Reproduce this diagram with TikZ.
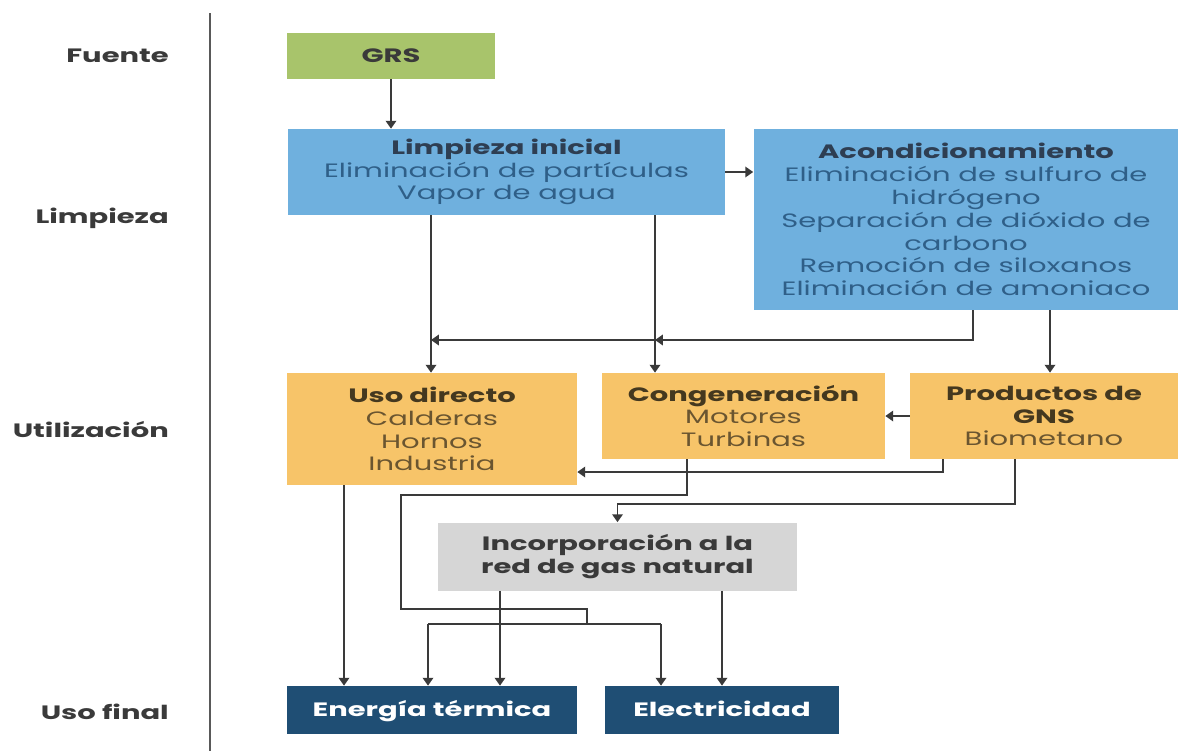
\documentclass[tikz,border=0pt]{standalone}
\usepackage{fontspec}
\setmainfont{Poppins}[FakeStretch=1.5]
\usetikzlibrary{arrows.meta}
\definecolor{verde}{HTML}{A8C46B}
\definecolor{azul}{HTML}{6FB0DE}
\definecolor{amarillo}{HTML}{F7C469}
\definecolor{gris}{HTML}{D6D6D6}
\definecolor{marino}{HTML}{1F4E74}
\definecolor{linea}{HTML}{3A3A3A}
\definecolor{tituloazul}{HTML}{2E3E52}
\definecolor{textoazul}{HTML}{2F5F88}
\definecolor{titulocafe}{HTML}{44381F}
\definecolor{textocafe}{HTML}{6A5530}

\tikzset{
  caja/.style={inner sep=0pt, align=center, font=\fontsize{11}{13}\selectfont},
  cajaazul/.style={caja, fill=azul, text=textoazul},
  cajaamarilla/.style={caja, fill=amarillo, text=textocafe},
  cajafinal/.style={caja, fill=marino, text=white, text height=7.8pt, text depth=0pt,
    font=\bfseries\fontsize{11}{13}\selectfont},
  etapa/.style={anchor=east, text=linea, font=\bfseries\fontsize{11}{13}\selectfont},
  flecha/.style={draw=linea, line width=1pt, -{Triangle[length=4.5pt,width=6pt]}},
  conector/.style={draw=linea, line width=1pt}
}

\begin{document}
\begin{tikzpicture}[x=0.02cm,y=-0.02cm]
  \useasboundingbox (0,0) rectangle (1180,751);
  \draw[gray!70!black, line width=1.1pt] (210,13) -- (210,751);

  \node[etapa] (fuente) at (175,56) {Fuente};
  \node[etapa] (limpieza) at (175,218) {Limpieza};
  \node[etapa] (utilizacion) at (175,430) {Utilización};
  \node[etapa] (usofinal) at (175,712) {Uso final};

  \node[caja, fill=verde, text=linea, text height=7.8pt, text depth=0pt,
    font=\bfseries\fontsize{11}{13}\selectfont,
    minimum width=4.16cm, minimum height=0.92cm] (grs) at (391,56) {GRS};
  \node[cajaazul, minimum width=8.74cm, minimum height=1.72cm] (limp) at (506.5,172)
    {\textbf{\color{tituloazul}Limpieza inicial}\\ Eliminación de partículas\\ Vapor de agua};
  \node[cajaazul, minimum width=8.5cm, minimum height=3.62cm] (acond) at (966,219.5)
    {\textbf{\color{tituloazul}Acondicionamiento}\\ Eliminación de sulfuro de\\ hidrógeno\\
     Separación de dióxido de\\ carbono\\ Remoción de siloxanos\\ Eliminación de amoniaco};

  \node[cajaamarilla, minimum width=5.8cm, minimum height=2.24cm] (uso) at (432,429)
    {\textbf{\color{titulocafe}Uso directo}\\ Calderas\\ Hornos\\ Industria};
  \node[cajaamarilla, minimum width=5.66cm, minimum height=1.72cm] (cogen) at (743.5,416)
    {\textbf{\color{titulocafe}Congeneración}\\ Motores\\ Turbinas};
  \node[cajaamarilla, minimum width=5.36cm, minimum height=1.72cm] (gns) at (1044,416)
    {\textbf{\color{titulocafe}Productos de}\\ \textbf{\color{titulocafe}GNS}\\ Biometano};

  \node[caja, fill=gris, text=linea, font=\bfseries\fontsize{11}{13}\selectfont,
    minimum width=7.18cm, minimum height=1.36cm] (red) at (617.5,556.5)
    {Incorporación a la\\ red de gas natural};

  \node[cajafinal, minimum width=5.8cm, minimum height=0.96cm] (term) at (432,710) {Energía térmica};
  \node[cajafinal, minimum width=4.7cm, minimum height=0.96cm] (elec) at (722,710) {Electricidad};

  \coordinate (xuso) at (431,340);
  \coordinate (xcog) at (655,340);
  \coordinate (xac) at (973,340);
  \coordinate (xgn) at (1050,340);
  \coordinate (xg1) at (943,472);
  \coordinate (xg2) at (1015,504);
  \coordinate (xtur) at (687,495);
  \coordinate (r1) at (401,495);
  \coordinate (r2) at (587,609);
  \coordinate (r3) at (428,624);
  \coordinate (r4) at (661,624);
  \coordinate (xdir) at (344,600);
  \coordinate (xred1) at (500,600);
  \coordinate (xred2) at (722,600);

  \draw[flecha] (grs.south) -- (grs.south |- limp.north);
  \draw[flecha] (limp.east) -- (acond.west |- limp.east);
  \draw[flecha] (limp.south -| xuso) -- (uso.north -| xuso);
  \draw[flecha] (limp.south -| xcog) -- (cogen.north -| xcog);
  \draw[flecha] (acond.south -| xac) |- (xcog);
  \draw[flecha] (xcog) -- (xuso);
  \draw[flecha] (acond.south -| xgn) -- (gns.north -| xgn);
  \draw[flecha] (gns.west) -- (cogen.east);
  \draw[flecha] (gns.south -| xg1) |- (uso.east |- xg1);
  \draw[flecha] (gns.south -| xg2) |- (red.north |- xg2) -- (red.north);

  \draw[conector] (cogen.south -| xtur) |- (r1) |- (r2) -- (r2 |- r3);
  \draw[conector] (r3) -- (r4);
  \draw[flecha] (r3) -- (term.north -| r3);
  \draw[flecha] (r4) -- (elec.north -| r4);
  \draw[flecha] (uso.south -| xdir) -- (term.north -| xdir);
  \draw[flecha] (red.south -| xred1) -- (term.north -| xred1);
  \draw[flecha] (red.south -| xred2) -- (elec.north -| xred2);
\end{tikzpicture}
\end{document}
